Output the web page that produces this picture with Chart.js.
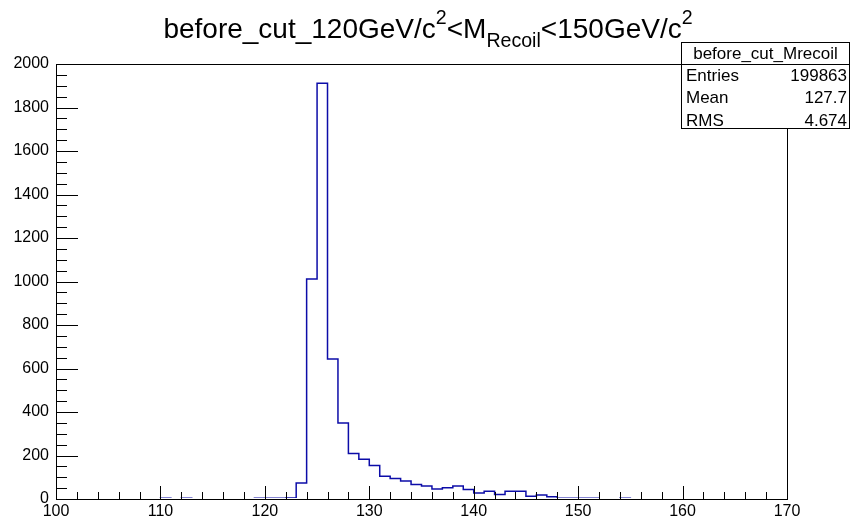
<!DOCTYPE html>
<html>
<head>
<meta charset="utf-8">
<script src="https://cdn.jsdelivr.net/npm/chart.js@4.4.0/dist/chart.umd.min.js"></script>
<style>
  html, body { margin: 0; padding: 0; background: #fff; }
  canvas { display: block; }
</style>
</head>
<body>
<canvas id="hist" width="851" height="521"></canvas>
<script>
// Mrecoil before cut, 1 GeV bins from 100 to 170
const binLow = 100;
const binWidth = 1;
const counts = [
    0, 0, 0, 0, 0, 0, 0, 0, 0, 0,            // 100-109
    3, 0, 3, 0, 0, 0, 0, 0, 0, 4,            // 110-119
    4, 4, 5, 74, 1012, 1911, 644, 350, 209, 183, // 120-129
    154, 105, 94, 83, 67, 60, 46, 52, 60, 44,  // 130-139
    28, 36, 21, 36, 36, 13, 18, 10, 4, 4,      // 140-149
    4, 4, 0, 0, 3, 0, 0, 0, 0, 0,              // 150-159
    0, 0, 0, 0, 0, 0, 0, 0, 0, 0               // 160-169
];
const xTicks = [100, 110, 120, 130, 140, 150, 160, 170];
const yTicks = [0, 200, 400, 600, 800, 1000, 1200, 1400, 1600, 1800, 2000];
const xMinorStep = 2;
const yMinorStep = 50;

const titleParts = [
    { text: 'before_cut_120GeV/c' },
    { text: '2', pos: 'sup' },
    { text: '<M' },
    { text: 'Recoil', pos: 'sub' },
    { text: '<150GeV/c' },
    { text: '2', pos: 'sup' }
];
const statsName = 'before_cut_Mrecoil';
const statsLabels = ['Entries', 'Mean', 'RMS'];
const statsValues = ['199863', '127.7', '4.674'];

const FONT = "'Liberation Sans', Arial, Helvetica, sans-serif";

// step outline: every bin starts at its low edge, last point closes the final bin
const points = counts.map((c, i) => ({ x: binLow + i * binWidth, y: c }));
points.push({ x: binLow + counts.length * binWidth, y: 0 });

// ROOT style frame with ticks pointing inwards
const rootFrame = {
    id: 'rootFrame',
    afterDatasetsDraw(chart) {
        const { ctx, chartArea: a, scales: { x, y } } = chart;
        ctx.save();
        ctx.strokeStyle = '#000';
        ctx.lineWidth = 1;
        ctx.beginPath();
        for (let v = x.min; v <= x.max; v += xMinorStep) {
            const px = Math.round(x.getPixelForValue(v)) + 0.5;
            const len = xTicks.includes(v) ? 13 : 7;
            ctx.moveTo(px, a.bottom);
            ctx.lineTo(px, a.bottom - len);
        }
        for (let v = y.min; v <= y.max; v += yMinorStep) {
            const py = Math.round(y.getPixelForValue(v)) + 0.5;
            const len = yTicks.includes(v) ? 22 : 11;
            ctx.moveTo(a.left, py);
            ctx.lineTo(a.left + len, py);
        }
        ctx.stroke();
        ctx.strokeRect(a.left + 0.5, a.top + 0.5, a.right - a.left, a.bottom - a.top);
        ctx.restore();
    }
};

// title with super/subscripts and the stats box
const rootText = {
    id: 'rootText',
    afterDraw(chart) {
        const ctx = chart.ctx;
        ctx.save();
        ctx.fillStyle = '#000';
        ctx.textBaseline = 'alphabetic';

        const size = 28;
        const fontFor = p => (p.pos ? size * 0.7 : size) + 'px ' + FONT;
        let total = 0;
        titleParts.forEach(p => { ctx.font = fontFor(p); total += ctx.measureText(p.text).width; });
        let tx = 428 - total / 2;
        const base = 38;
        titleParts.forEach(p => {
            ctx.font = fontFor(p);
            let dy = 0;
            if (p.pos === 'sup') dy = -14;
            if (p.pos === 'sub') dy = 9;
            ctx.textAlign = 'left';
            ctx.fillText(p.text, tx, base + dy);
            tx += ctx.measureText(p.text).width;
        });

        // stats box
        const bx = 681.5, by = 42.5, bw = 168, bh = 86;
        ctx.fillStyle = '#fff';
        ctx.fillRect(bx, by, bw, bh);
        ctx.strokeStyle = '#000';
        ctx.lineWidth = 1;
        ctx.strokeRect(bx, by, bw, bh);
        ctx.beginPath();
        ctx.moveTo(bx, 64.5);
        ctx.lineTo(bx + bw, 64.5);
        ctx.stroke();

        ctx.fillStyle = '#000';
        ctx.font = '17px ' + FONT;
        ctx.textBaseline = 'middle';
        ctx.textAlign = 'center';
        ctx.fillText(statsName, bx + bw / 2, 54);
        statsLabels.forEach((lab, i) => {
            const ry = 76 + i * 22.5;
            ctx.textAlign = 'left';
            ctx.fillText(lab, 686, ry);
            ctx.textAlign = 'right';
            ctx.fillText(statsValues[i], 847, ry);
        });
        ctx.restore();
    }
};

new Chart(document.getElementById('hist'), {
    type: 'line',
    data: {
        datasets: [{
            data: points,
            stepped: 'before',
            borderColor: '#0c0ca8',
            borderWidth: 1.5,
            pointRadius: 0,
            fill: false,
            // hide the empty bins under the x axis, like ROOT does
            clip: { left: 0, top: 0, right: 0, bottom: -1 }
        }]
    },
    options: {
        responsive: false,
        animation: false,
        events: [],
        layout: { padding: { top: 64, right: 64, left: 0, bottom: 0 } },
        plugins: {
            legend: { display: false },
            tooltip: { enabled: false }
        },
        scales: {
            x: {
                type: 'linear',
                min: 100,
                max: 170,
                grid: { display: false, drawTicks: false },
                border: { display: false },
                afterBuildTicks: axis => { axis.ticks = xTicks.map(v => ({ value: v })); },
                afterFit: axis => { axis.height = 22; },
                ticks: {
                    font: { family: FONT, size: 16 },
                    color: '#000',
                    padding: 3,
                    maxRotation: 0,
                    autoSkip: false,
                    callback: v => String(v)
                }
            },
            y: {
                min: 0,
                max: 2000,
                grid: { display: false, drawTicks: false },
                border: { display: false },
                afterBuildTicks: axis => { axis.ticks = yTicks.map(v => ({ value: v })); },
                afterFit: axis => { axis.width = 56; },
                ticks: {
                    font: { family: FONT, size: 16 },
                    color: '#000',
                    padding: 7,
                    autoSkip: false,
                    callback: v => String(v)
                }
            }
        }
    },
    plugins: [rootFrame, rootText]
});
</script>
</body>
</html>
